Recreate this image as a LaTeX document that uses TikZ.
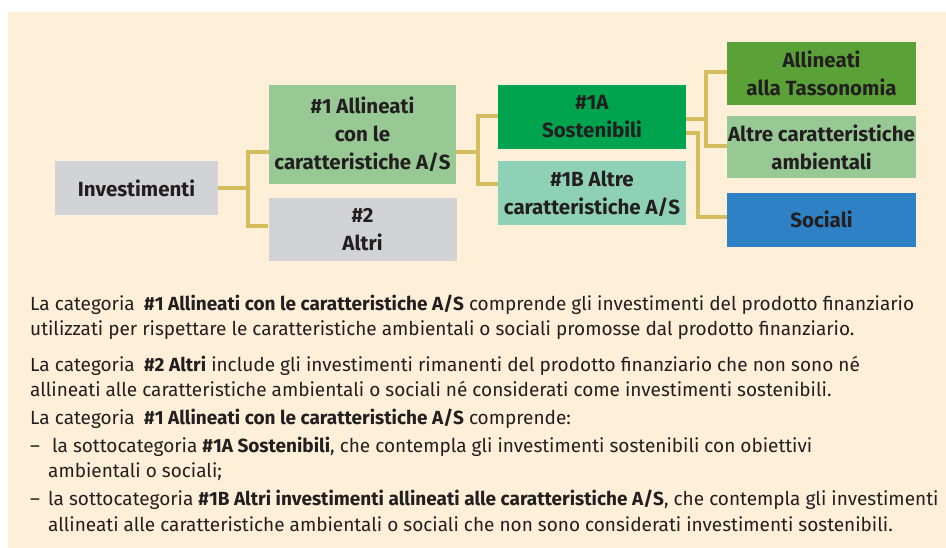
\documentclass[tikz,border=0pt]{standalone}
\usepackage{fontspec}
\setmainfont{Fira Sans}
\usetikzlibrary{positioning}
\definecolor{pagebg}{HTML}{FDEFD8}
\definecolor{boxgray}{HTML}{D1D3D4}
\definecolor{boxpale}{HTML}{98C995}
\definecolor{boxgreen}{HTML}{00A44F}
\definecolor{boxteal}{HTML}{8FD1B7}
\definecolor{boxleaf}{HTML}{5AA137}
\definecolor{boxblue}{HTML}{2E81C5}
\definecolor{linkgold}{HTML}{D5BC5C}
\definecolor{ink}{HTML}{231F20}

\begin{document}
\begin{tikzpicture}[x=1pt, y=-1pt,
every node/.style={inner sep=0pt, text=ink},
cat/.style={align=center, minimum width=188pt, font=\bfseries\fontsize{20.5}{28}\selectfont},
link/.style={draw=linkgold, line width=3.2pt},
para/.style={anchor=base west, font=\fontsize{19}{24}\selectfont}
]
\useasboundingbox (0,0) rectangle (946,548);
\fill[pagebg] (8,12) rectangle (946,548);

% categories
\node [cat, fill=boxgray, minimum width=163pt, minimum height=54pt] (inv) at (136.5,188) {Investimenti};
\node [cat, fill=boxpale, minimum width=187pt, minimum height=99pt] (c1) at (362.5,134.5)
  {\#1 Allineati\\con le\\caratteristiche A/S};
\node [cat, fill=boxgray, minimum height=63pt, below=14pt of c1] (c2) {\#2\\Altri};
\node [cat, fill=boxgreen, minimum height=64pt] (c1a) at (592,117) {\#1A\\Sostenibili};
\node [cat, fill=boxteal, minimum height=64pt, below=12pt of c1a] (c1b) {\#1B Altre\\caratteristiche A/S};
\node [cat, fill=boxleaf, minimum width=189pt, minimum height=63pt] (tax) at (821.5,73.5)
  {Allineati\\alla Tassonomia};
\node [cat, fill=boxpale, minimum width=189pt, minimum height=62pt, below=11pt of tax] (amb)
  {Altre caratteristiche\\ambientali};
\node [cat, fill=boxblue, minimum width=189pt, minimum height=54pt, below=14pt of amb] (soc) {Sociali};

% connectors
\coordinate (j1) at (248,188);
\coordinate (j2) at (478,152);
\coordinate (j3) at (706,119);
\coordinate (j4) at (698,133);
\draw [link] (inv) -- (j1);
\draw [link] (c1.west |- 0,152) -| (j1) |- (c2.west |- 0,226);
\draw [link] (c1.east |- j2) -- (j2);
\draw [link] (c1a.west |- 0,116) -| (j2) |- (c1b.west |- 0,184);
\draw [link] (c1a.east |- j3) -- (j3);
\draw [link] (tax.west |- 0,72) -| (j3) |- (amb.west |- 0,146);
\draw [link] (c1a.east |- j4) -- (j4) |- (soc.west |- 0,217);

% notes
\node [para] (t1) at (30,311) {La categoria\enspace\textbf{\#1 Allineati con le caratteristiche A/S} comprende gli investimenti del prodotto finanziario};
\node [para] (t2) at (30,335) {utilizzati per rispettare le caratteristiche ambientali o sociali promosse dal prodotto finanziario.};
\node [para] (t3) at (30,371) {La categoria\enspace\textbf{\#2 Altri} include gli investimenti rimanenti del prodotto finanziario che non sono né};
\node [para] (t4) at (30,396) {allineati alle caratteristiche ambientali o sociali né considerati come investimenti sostenibili.};
\node [para] (t5) at (30,424) {La categoria\enspace\textbf{\#1 Allineati con le caratteristiche A/S} comprende:};
\node [para] (t6) at (30,452) {\makebox[22pt][l]{–}la sottocategoria \textbf{\#1A Sostenibili}, che contempla gli investimenti sostenibili con obiettivi};
\node [para] (t7) at (48,477) {ambientali o sociali;};
\node [para] (t8) at (30,505) {\makebox[18pt][l]{–}la sottocategoria \textbf{\#1B Altri investimenti allineati alle caratteristiche A/S}, che contempla gli investimenti};
\node [para] (t9) at (48,531) {allineati alle caratteristiche ambientali o sociali che non sono considerati investimenti sostenibili.};
\end{tikzpicture}
\end{document}
